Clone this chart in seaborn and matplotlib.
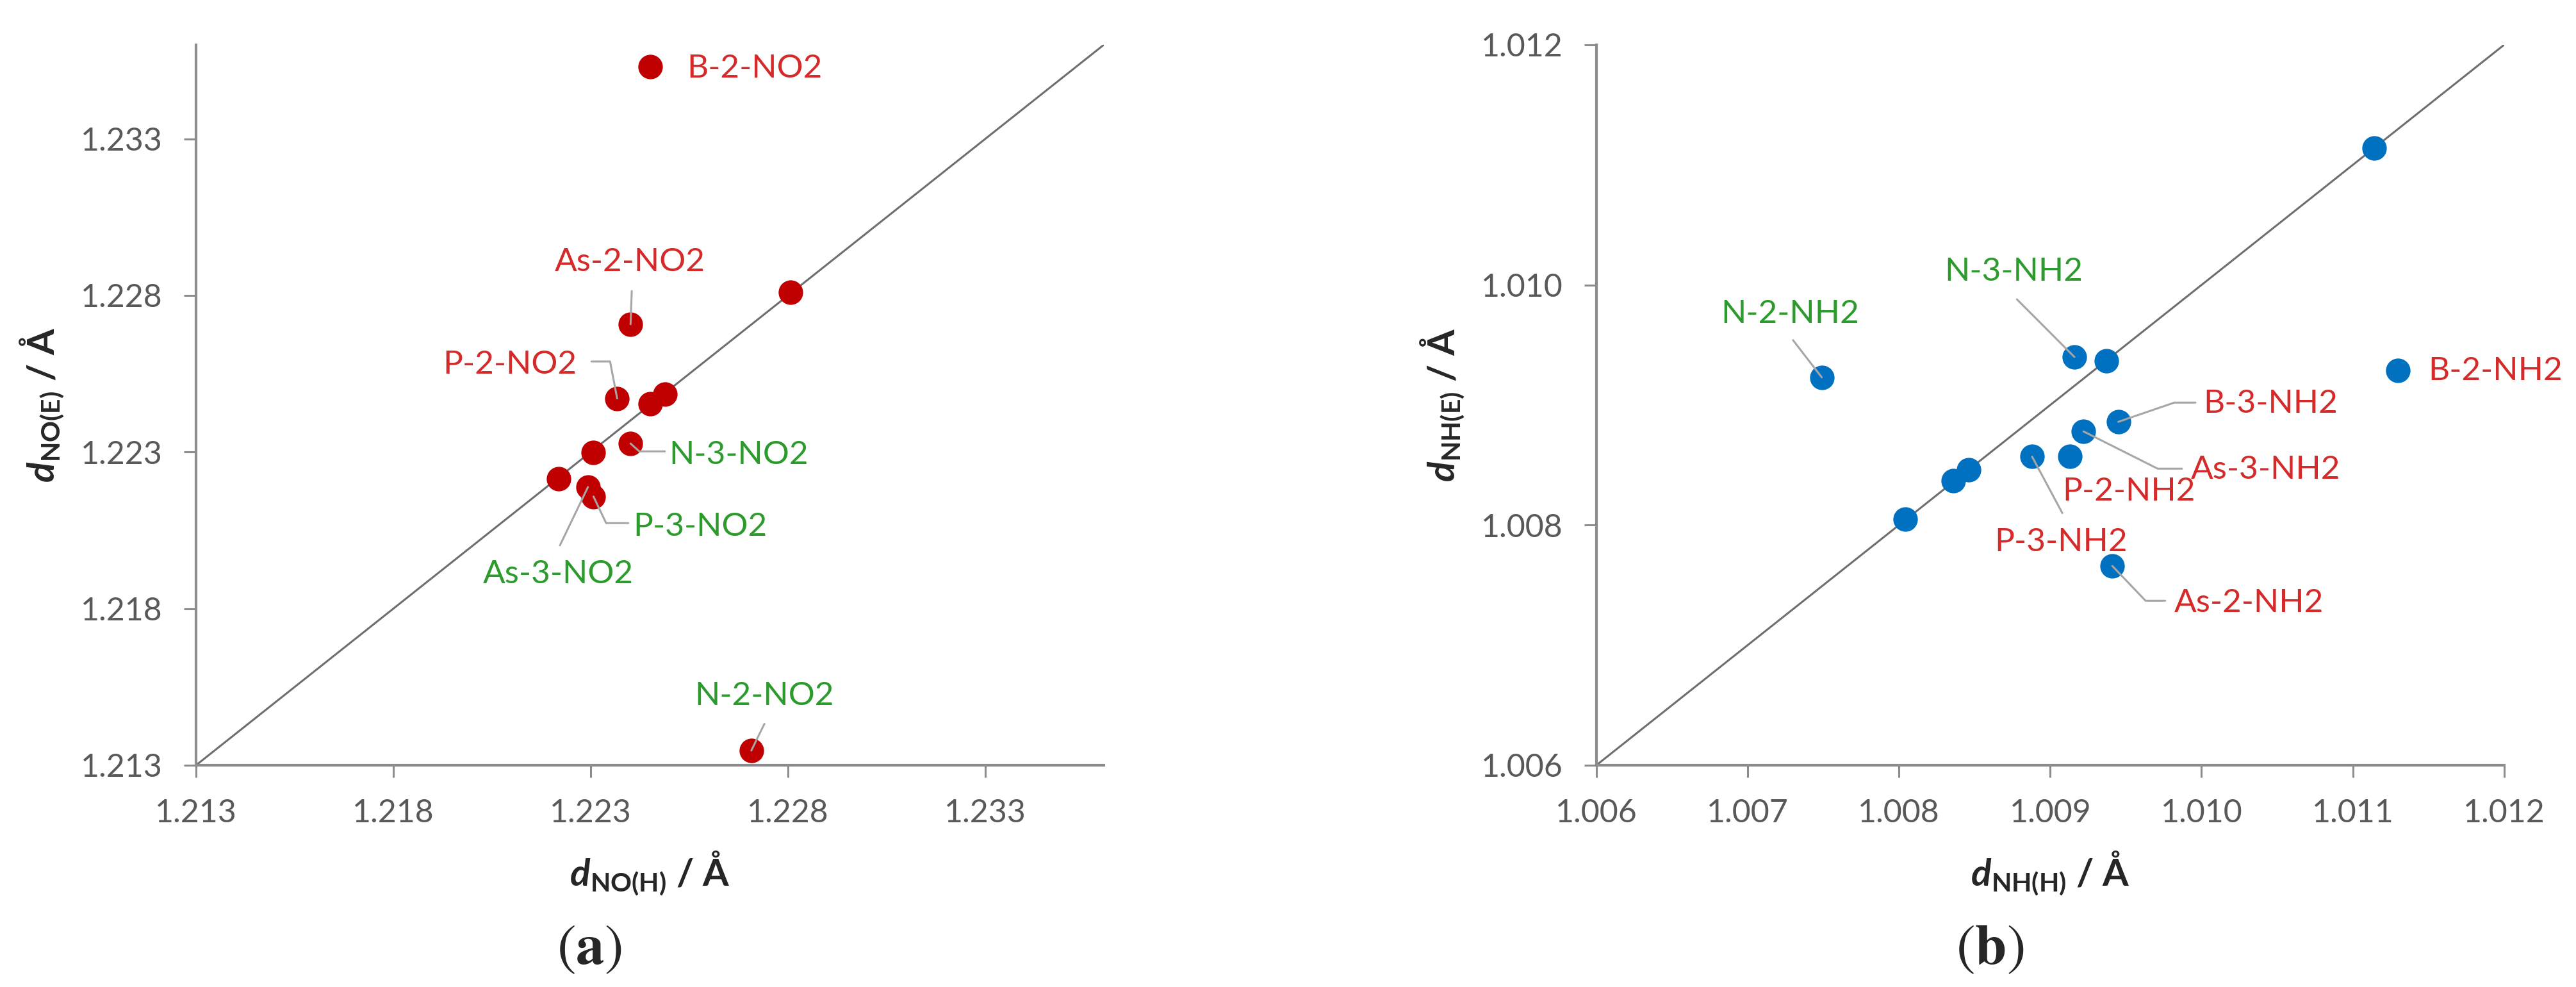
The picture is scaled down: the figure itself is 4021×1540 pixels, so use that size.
import numpy as np
import matplotlib
matplotlib.use("Agg")
import matplotlib.pyplot as plt
import seaborn as sns

sns.set_style("white")
plt.rcParams['font.family'] = ['Lato', 'DejaVu Sans']
plt.rcParams['mathtext.fontset'] = 'custom'
plt.rcParams['mathtext.rm'] = 'Lato'
plt.rcParams['mathtext.bf'] = 'Lato:bold'
plt.rcParams['mathtext.it'] = 'Lato:italic'
plt.rcParams['mathtext.bfit'] = 'Lato:italic:bold'

# (a) NO2 data
no_h = [1.22451, 1.22401, 1.22807, 1.22367, 1.22451, 1.22488, 1.22401, 1.22307, 1.22218, 1.22293, 1.22307, 1.22707]
no_e = [1.23530, 1.22708, 1.22809, 1.22471, 1.22454, 1.22484, 1.22327, 1.22298, 1.22214, 1.22188, 1.22158, 1.21347]
no_names = ["B-2-NO2", "As-2-NO2", "", "P-2-NO2", "", "", "N-3-NO2", "", "", "As-3-NO2", "P-3-NO2", "N-2-NO2"]
no_lim = (1.213, 1.236)
no_ticks = [1.213, 1.218, 1.223, 1.228, 1.233]

# (b) NH2 data
nh_h = [1.01114, 1.00749, 1.00916, 1.00937, 1.01130, 1.00945, 1.00922, 1.00888, 1.00913, 1.00846, 1.00836, 1.00804, 1.00941]
nh_e = [1.01114, 1.00923, 1.00940, 1.00937, 1.00929, 1.00886, 1.00878, 1.00857, 1.00857, 1.00846, 1.00837, 1.00805, 1.00766]
nh_names = ["", "N-2-NH2", "N-3-NH2", "", "B-2-NH2", "B-3-NH2", "As-3-NH2", "P-3-NH2", "P-2-NH2", "", "", "", "As-2-NH2"]
nh_lim = (1.006, 1.012)
nh_xticks = [1.006, 1.007, 1.008, 1.009, 1.010, 1.011, 1.012]
nh_yticks = [1.006, 1.008, 1.010, 1.012]

RED = "#d42a2a"
GREEN = "#2c9a2c"

# label placement: name -> (text x, text y, ha, color, leader path (without the point))
no_labels = {
    "B-2-NO2": (1.22544, 1.23525, "left", RED, []),
    "As-2-NO2": (1.22399, 1.22907, "center", RED, [(1.22404, 1.22814)]),
    "P-2-NO2": (1.22265, 1.22578, "right", RED, [(1.22302, 1.22589), (1.22349, 1.22589)]),
    "N-3-NO2": (1.22498, 1.22290, "left", GREEN, [(1.22488, 1.22302), (1.22423, 1.22302)]),
    "P-3-NO2": (1.22408, 1.22061, "left", GREEN, [(1.22395, 1.22073), (1.22339, 1.22073)]),
    "As-3-NO2": (1.22218, 1.21909, "center", GREEN, [(1.22222, 1.22002)]),
    "N-2-NO2": (1.22740, 1.21520, "center", GREEN, [(1.22740, 1.21432)]),
}
nh_labels = {
    "N-2-NH2": (1.00728, 1.00976, "center", GREEN, [(1.00730, 1.00954)]),
    "N-3-NH2": (1.00876, 1.01011, "center", GREEN, [(1.00878, 1.00988)]),
    "B-2-NH2": (1.01150, 1.00928, "left", RED, []),
    "B-3-NH2": (1.01001, 1.00901, "left", RED, [(1.00996, 1.00902), (1.00982, 1.00902)]),
    "As-3-NH2": (1.00993, 1.00846, "left", RED, [(1.00987, 1.00847), (1.00971, 1.00847)]),
    "P-2-NH2": (1.00908, 1.00828, "left", RED, []),
    "P-3-NH2": (1.00907, 1.00786, "center", RED, [(1.00908, 1.00810)]),
    "As-2-NH2": (1.00982, 1.00735, "left", RED, [(1.00976, 1.00737), (1.00963, 1.00737)]),
}


def draw_panel(ax, xs, ys, names, labels, lim_x, lim_y, xticks, yticks, color, xlabel, ylabel):
    ax.plot([lim_x[0], lim_x[1]], [lim_y[0], lim_y[1]], color="#6e6e6e", lw=2.2, zorder=2)
    sns.scatterplot(x=xs, y=ys, color=color, s=760, linewidth=0, ax=ax, zorder=3)

    for x, y, name in zip(xs, ys, names):
        if not name:
            continue
        tx, ty, ha, tcolor, path = labels[name]
        if path:
            px = [p[0] for p in path] + [x]
            py = [p[1] for p in path] + [y]
            ax.plot(px, py, color="#a6a6a6", lw=2.2, zorder=4, solid_capstyle="round")
        ax.text(tx, ty, name, color=tcolor, fontsize=37, ha=ha, va="center", zorder=5)

    ax.set_xlim(lim_x)
    ax.set_ylim(lim_y)
    ax.set_xticks(xticks)
    ax.set_yticks(yticks)
    ax.set_xticklabels([f"{t:.3f}" for t in xticks])
    ax.set_yticklabels([f"{t:.3f}" for t in yticks])
    sns.despine(ax=ax)
    for sp in ["left", "bottom"]:
        ax.spines[sp].set_color("#8c8c8c")
        ax.spines[sp].set_linewidth(3)
    ax.tick_params(axis="both", direction="out", length=13.5, width=2.2, color="#8c8c8c",
                   labelsize=36, labelcolor="#595959", pad=24, left=True, bottom=True)
    ax.set_xlabel(xlabel, fontsize=42, fontweight="bold")
    ax.set_ylabel(ylabel, fontsize=42, fontweight="bold")
    ax.xaxis.set_label_coords(0.5, -0.150)
    ax.xaxis.label.set_va("center")
    ax.yaxis.set_label_coords(-0.170, 0.5)
    ax.yaxis.label.set_va("center")
    ax.grid(False)


fig = plt.figure(figsize=(40.21, 15.4), dpi=100)
ax1 = fig.add_axes([0.0761, 0.2247, 0.3524, 0.7299])
ax2 = fig.add_axes([0.6197, 0.2247, 0.3524, 0.7299])

draw_panel(ax1, no_h, no_e, no_names, no_labels, no_lim, no_lim, no_ticks, no_ticks, "#c00000",
           r"$\mathbfit{d}_{\mathbf{NO(H)}}$ / Å", r"$\mathbfit{d}_{\mathbf{NO(E)}}$ / Å")
draw_panel(ax2, nh_h, nh_e, nh_names, nh_labels, nh_lim, nh_lim, nh_xticks, nh_yticks, "#0070c0",
           r"$\mathbfit{d}_{\mathbf{NH(H)}}$ / Å", r"$\mathbfit{d}_{\mathbf{NH(E)}}$ / Å")

fig.text(0.2288, 0.038, r"$\mathrm{(}\mathbf{a}\mathrm{)}$", fontsize=64, ha="center", va="center",
         math_fontfamily="stix")
fig.text(0.7724, 0.038, r"$\mathrm{(}\mathbf{b}\mathrm{)}$", fontsize=64, ha="center", va="center",
         math_fontfamily="stix")

fig.savefig("out.png", dpi=100, facecolor="white")
